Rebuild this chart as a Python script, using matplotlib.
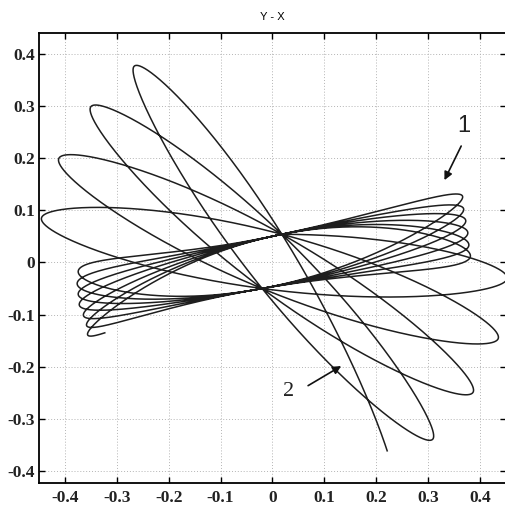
import numpy as np
import matplotlib
matplotlib.use("Agg")
import matplotlib.pyplot as plt

# two fixed crossing points every swing passes through (upper / lower pinch)
pinch_upper = (0.018, 0.054)
pinch_lower = (-0.020, -0.050)

# turning points of trajectory 1, in order (first and last only set direction)
tips1_x = [0.362, -0.374, 0.366, -0.376, 0.368, -0.374, 0.372, -0.372,
           0.376, -0.364, 0.378, -0.358, 0.381, -0.356, 0.383]
tips1_y = [0.145, -0.015, 0.123, -0.038, 0.099, -0.058, 0.077, -0.078,
           0.054, -0.098, 0.031, -0.117, 0.010, -0.135, -0.013]
end1 = 0.5  # how far past the last drawn tip the hook goes (rad)

# turning points of trajectory 2, in order
tips2_x = [-0.455, 0.452, -0.445, 0.435, -0.412, 0.387, -0.351, 0.310, -0.268, 0.235]
tips2_y = [-0.030, -0.032, 0.086, -0.146, 0.199, -0.248, 0.297, -0.337, 0.374, -0.430]
end2 = 2.69

xticks = [-0.4, -0.3, -0.2, -0.1, 0, 0.1, 0.2, 0.3, 0.4]
yticks = [-0.4, -0.3, -0.2, -0.1, 0, 0.1, 0.2, 0.3, 0.4]


def swing(tx, ty, t_start, t_end, n=6000):
    T = np.column_stack([tx, ty])
    pu = np.array(pinch_upper)
    pl = np.array(pinch_lower)
    c0 = (pu + pl) / 2
    w = (pu - pl) / 2
    t = np.linspace(t_start, t_end, n)
    k = np.clip(np.floor(t / np.pi).astype(int), 0, len(T) - 2)
    ta, tb = T[k], T[k + 1]
    sgn = np.where(k % 2 == 0, 1.0, -1.0)[:, None]
    D = sgn * (ta - tb) / 2
    S = (ta + tb) / 2 - c0
    c = np.cos(t)[:, None]
    s = np.sin(t)[:, None]
    P = c0 + w * s + D * c + S * c ** 2
    return P[:, 0], P[:, 1]


fig = plt.figure(figsize=(5.06, 5.07), dpi=100)
ax = fig.add_axes([39 / 506, 1 - 483 / 507, 467 / 506, 450 / 507])

x1, y1 = swing(tips1_x, tips1_y, np.pi / 2, (len(tips1_x) - 2) * np.pi + end1)
x2, y2 = swing(tips2_x, tips2_y, np.pi / 2, (len(tips2_x) - 2) * np.pi + end2)
ax.plot(x1, y1, color="#1e1e1e", lw=1.1)
ax.plot(x2, y2, color="#1e1e1e", lw=1.1)

ax.set_xlim(-0.45, 0.45)
ax.set_ylim(-0.423, 0.44)
ax.set_xticks(xticks)
ax.set_yticks(yticks)
ax.set_xticklabels(["0" if v == 0 else f"{v:.1f}" for v in xticks])
ax.set_yticklabels(["0" if v == 0 else f"{v:.1f}" for v in yticks])
ax.grid(True, linestyle=(0, (1, 2)), color="#b4b4b4", lw=0.7)
ax.tick_params(direction="in", length=4, width=1, top=True, right=True,
               labelsize=12.5)
ax.tick_params(axis="x", pad=5)
ax.tick_params(axis="y", pad=3)
for lab in ax.get_xticklabels() + ax.get_yticklabels():
    lab.set_family("Liberation Serif")
    lab.set_weight("bold")
    lab.set_color("#222222")
for sp in ax.spines.values():
    sp.set_linewidth(1.3)

ax.set_title("Y - X", fontsize=8, family="Liberation Sans", pad=9)

# labels and arrows
ax.text(0.368, 0.262, "1", fontsize=17, family="Liberation Sans",
        ha="center", va="center", color="#222222")
ax.annotate("", xy=(0.329, 0.153), xytext=(0.366, 0.228),
            arrowprops=dict(arrowstyle="-|>", color="#111111", lw=1.2, mutation_scale=12))
ax.text(0.031, -0.247, "2", fontsize=16, family="Liberation Serif",
        ha="center", va="center", color="#222222")
ax.annotate("", xy=(0.137, -0.196), xytext=(0.064, -0.239),
            arrowprops=dict(arrowstyle="-|>", color="#111111", lw=1.2, mutation_scale=12))

fig.savefig("out.png", dpi=100)
